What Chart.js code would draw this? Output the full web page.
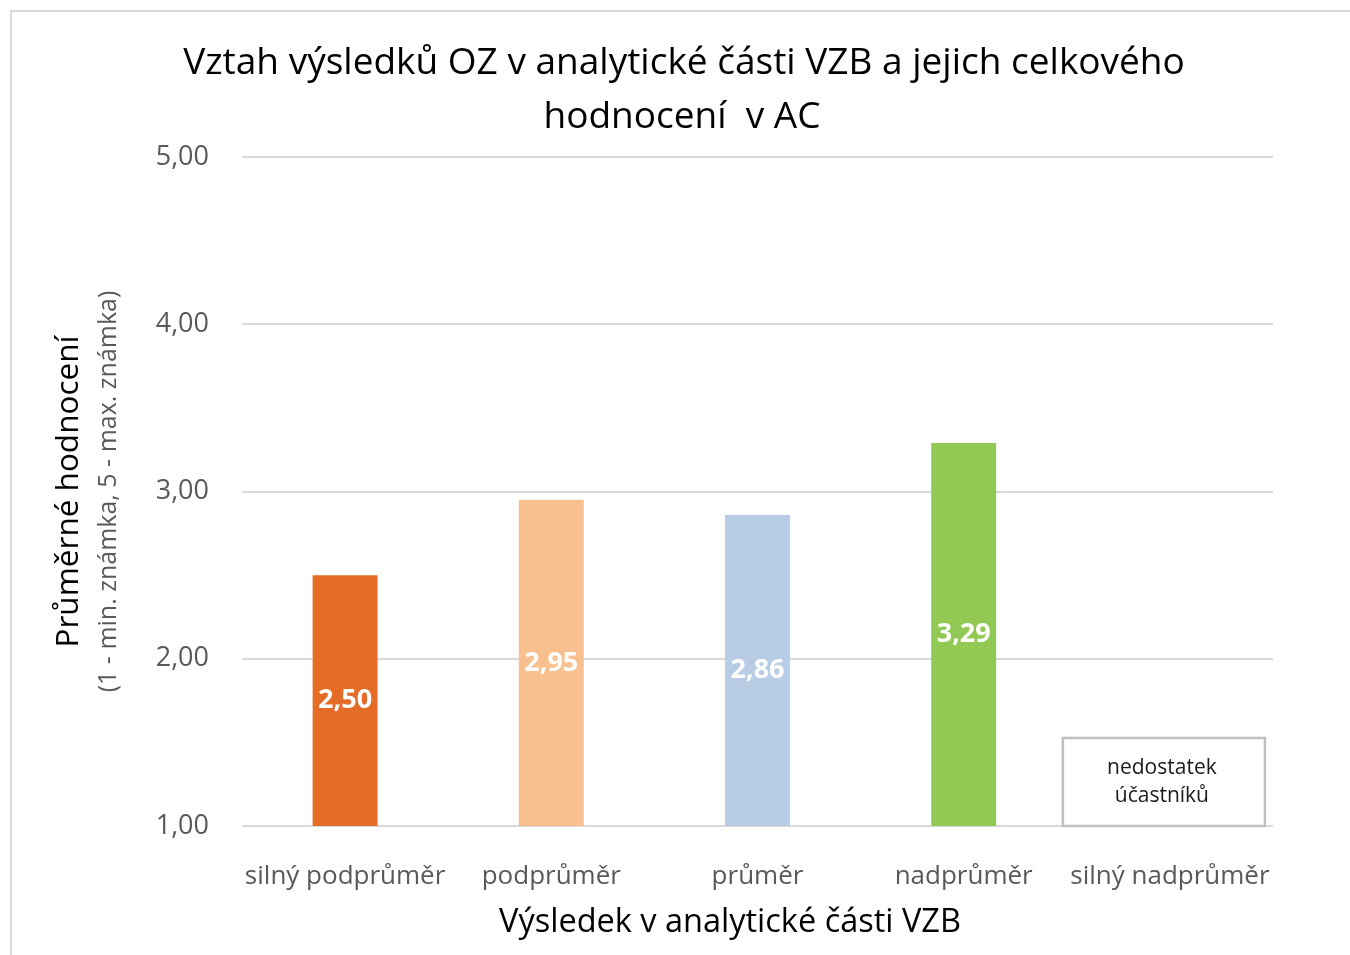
<!DOCTYPE html>
<html>
<head>
<meta charset="utf-8">
<script src="https://cdn.jsdelivr.net/npm/chart.js@4/dist/chart.umd.min.js"></script>
<style>
  html, body { margin: 0; padding: 0; background: #fff; }
  .wrap { position: relative; width: 1350px; height: 955px; }
</style>
</head>
<body>
<div class="wrap"><canvas id="chart"></canvas></div>
<script>
const categories = ['silný podprůměr', 'podprůměr', 'průměr', 'nadprůměr', 'silný nadprůměr'];
const values = [2.50, 2.95, 2.86, 3.29, null];
const barColors = ['#E46C27', '#F9C08F', '#B8CCE4', '#92C954', '#FFFFFF'];
const yTicks = [1, 2, 3, 4, 5];
const titleLines = ['Vztah výsledků OZ v analytické části VZB a jejich celkového', 'hodnocení  v AC'];
const yTitle = 'Průměrné hodnocení';
const ySubtitle = '(1 - min. známka, 5 - max. známka)';
const xTitle = 'Výsledek v analytické části VZB';
const noteLines = ['nedostatek', 'účastníků'];

const FONT = '"Open Sans", Lato, sans-serif';

function fmt(v) {
  return v.toFixed(2).replace('.', ',');
}

const decorPlugin = {
  id: 'decor',
  beforeDraw(chart) {
    const ctx = chart.ctx;
    ctx.save();
    // outer frame (only left and top visible in the crop)
    ctx.strokeStyle = '#d9d9d9';
    ctx.lineWidth = 2;
    ctx.beginPath();
    ctx.moveTo(11, chart.height);
    ctx.lineTo(11, 11);
    ctx.lineTo(chart.width, 11);
    ctx.stroke();
    ctx.restore();
  },
  afterDatasetsDraw(chart) {
    const ctx = chart.ctx;
    const meta = chart.getDatasetMeta(0);
    const area = chart.chartArea;
    ctx.save();
    // value labels in the middle of each visible bar
    ctx.fillStyle = '#ffffff';
    ctx.font = 'bold 27px ' + FONT;
    ctx.textAlign = 'center';
    ctx.textBaseline = 'middle';
    meta.data.forEach((bar, i) => {
      if (values[i] == null) return;
      const base = Math.min(bar.base, area.bottom);
      ctx.fillText(fmt(values[i]), bar.x, (bar.y + base) / 2);
    });

    // note box for the empty category
    const xs = chart.scales.x;
    const ys = chart.scales.y;
    const idx = values.findIndex(v => v == null);
    if (idx >= 0) {
      const cx = xs.getPixelForValue(idx) - 6;
      const halfW = 101;
      const bottom = ys.getPixelForValue(1);
      const top = bottom - 88;
      ctx.fillStyle = '#ffffff';
      ctx.fillRect(cx - halfW, top, halfW * 2, bottom - top);
      ctx.strokeStyle = '#bfbfbf';
      ctx.lineWidth = 2.5;
      ctx.strokeRect(cx - halfW, top, halfW * 2, bottom - top);
      ctx.fillStyle = '#1a1a1a';
      ctx.font = '21px ' + FONT;
      ctx.fillText(noteLines[0], cx - 2, top + 30);
      ctx.fillText(noteLines[1], cx - 2, top + 58);
    }
    ctx.restore();
  },
  afterDraw(chart) {
    const ctx = chart.ctx;
    const area = chart.chartArea;
    ctx.save();
    ctx.textAlign = 'center';
    ctx.textBaseline = 'middle';
    // main title
    ctx.fillStyle = '#000000';
    ctx.font = '37px ' + FONT;
    ctx.fillText(titleLines[0], 684, 63);
    ctx.fillText(titleLines[1], 682, 117);
    // x axis title
    ctx.font = '32.5px ' + FONT;
    ctx.fillText(xTitle, 730, 923);
    // y axis titles (rotated)
    const cy = (area.top + area.bottom) / 2;
    ctx.save();
    ctx.translate(69, cy);
    ctx.rotate(-Math.PI / 2);
    ctx.font = '31.5px ' + FONT;
    ctx.fillStyle = '#000000';
    ctx.fillText(yTitle, 0, 0);
    ctx.restore();
    ctx.save();
    ctx.translate(109, cy);
    ctx.rotate(-Math.PI / 2);
    ctx.font = '25px ' + FONT;
    ctx.fillStyle = '#595959';
    ctx.fillText(ySubtitle, 0, 0);
    ctx.restore();
    ctx.restore();
  }
};

new Chart(document.getElementById('chart'), {
  type: 'bar',
  data: {
    labels: categories,
    datasets: [{
      data: values,
      backgroundColor: barColors,
      borderWidth: 0,
      categoryPercentage: 1,
      barPercentage: 0.315
    }]
  },
  options: {
    responsive: true,
    maintainAspectRatio: false,
    animation: false,
    layout: {
      padding: { top: 157, right: 77, bottom: 0, left: 0 }
    },
    plugins: {
      legend: { display: false },
      title: { display: false },
      tooltip: { enabled: false }
    },
    scales: {
      x: {
        grid: { display: false, drawTicks: false },
        border: { display: false },
        ticks: {
          color: '#595959',
          padding: 35,
          autoSkip: false,
          maxRotation: 0,
          minRotation: 0,
          font: { family: FONT, size: 26 }
        },
        afterFit(scale) { scale.height = 129; }
      },
      y: {
        min: 1,
        max: 5,
        afterBuildTicks(scale) {
          scale.ticks = yTicks.map(v => ({ value: v }));
        },
        grid: { color: '#d9d9d9', lineWidth: 2, drawTicks: false },
        border: { display: false },
        ticks: {
          color: '#595959',
          padding: 33,
          font: { family: FONT, size: 27 },
          callback: v => fmt(v)
        },
        afterFit(scale) { scale.width = 242; }
      }
    }
  },
  plugins: [decorPlugin]
});
</script>
</body>
</html>
